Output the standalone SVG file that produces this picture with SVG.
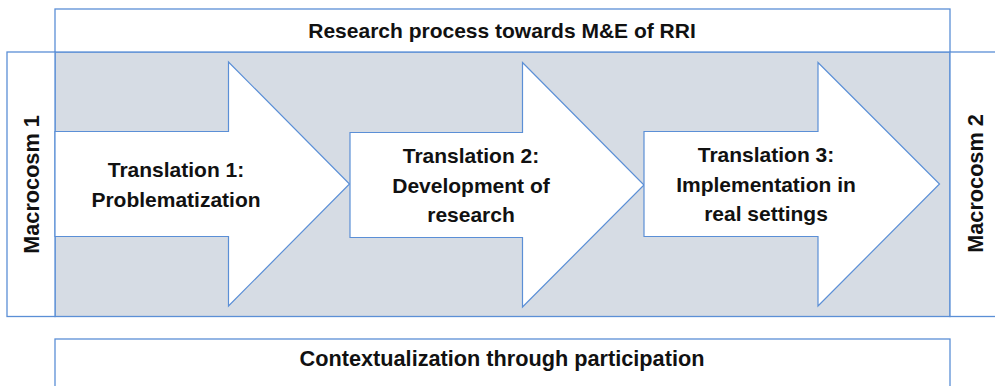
<svg xmlns="http://www.w3.org/2000/svg" width="995" height="386" viewBox="0 0 995 386">
<style>
.box{fill:#ffffff;stroke:#5b8fd6;stroke-width:1.3}
.bg{fill:#d6dce4;stroke:#5b8fd6;stroke-width:1.3}
.arrow{fill:#ffffff;stroke:#5b8fd6;stroke-width:1.2}
text{font-family:"Liberation Sans",Arial,sans-serif;font-weight:bold;font-size:21px;fill:#111111;text-anchor:middle}
.big{font-size:21.7px}
</style>
<rect width="995" height="386" fill="#ffffff"/>
<g id="process-area">
<rect class="bg" x="55" y="52" width="895" height="264.5"/>
</g>
<g id="top-box">
<rect class="box" x="55" y="9" width="895" height="43"/>
<text x="502" y="38">Research process towards M&amp;E of RRI</text>
</g>
<g id="macrocosm1">
<rect class="box" x="7" y="52" width="48" height="264.5"/>
<text transform="translate(39,184.5) rotate(-90)" class="big">Macrocosm 1</text>
</g>
<g id="macrocosm2">
<rect class="box" x="950" y="52" width="60" height="264.5"/>
<text transform="translate(983,183.5) rotate(-90)" class="big">Macrocosm 2</text>
</g>
<g id="translation1">
<path class="arrow" d="M55,131.5 H228.5 V62 L349.5,184 L228.5,306 V236.5 H55 Z"/>
<text x="176" y="177">Translation 1:</text>
<text x="176" y="207">Problematization</text>
</g>
<g id="translation2">
<path class="arrow" d="M350,132.5 H522.5 V62.5 L644,185 L522.5,307 V237.5 H350 Z"/>
<text x="471" y="163">Translation 2:</text>
<text x="471" y="193">Development of</text>
<text x="471" y="222">research</text>
</g>
<g id="translation3">
<path class="arrow" d="M644,131.5 H818 V62.5 L939.5,184 L818,306 V236.5 H644 Z"/>
<text x="766" y="162">Translation 3:</text>
<text x="766" y="192">Implementation in</text>
<text x="766" y="221">real settings</text>
</g>
<g id="bottom-box">
<rect class="box" x="55" y="339" width="895" height="60"/>
<text x="502" y="366" class="big">Contextualization through participation</text>
</g>
<g id="connectors"></g>
</svg>
